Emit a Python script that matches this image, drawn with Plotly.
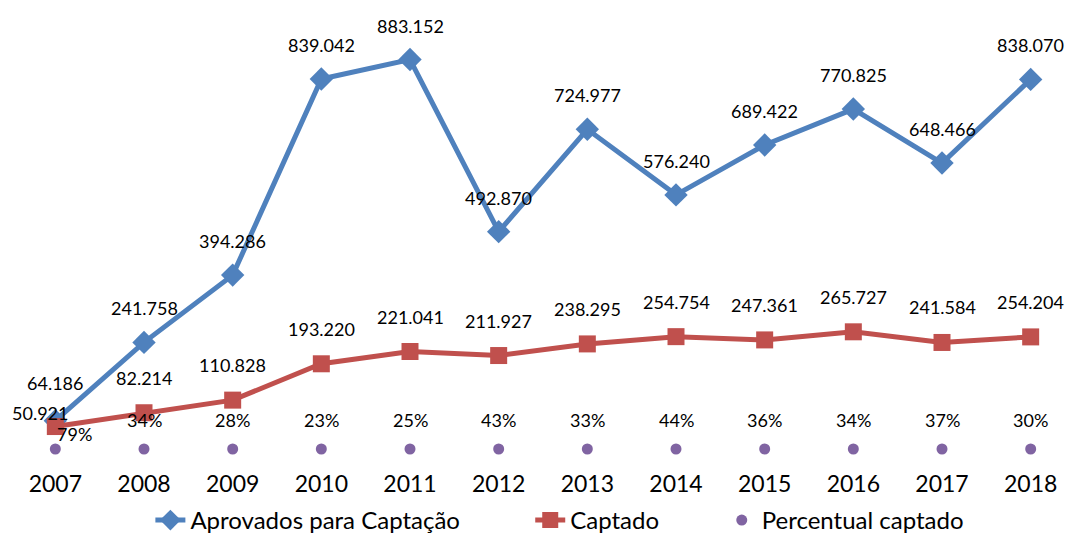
import plotly.graph_objects as go

# data
anos = ["2007", "2008", "2009", "2010", "2011", "2012", "2013", "2014", "2015", "2016", "2017", "2018"]
aprovados = [64186, 241758, 394286, 839042, 883152, 492870, 724977, 576240, 689422, 770825, 648466, 838070]
captado = [50921, 82214, 110828, 193220, 221041, 211927, 238295, 254754, 247361, 265727, 241584, 254204]
percentual = [0.79, 0.34, 0.28, 0.23, 0.25, 0.43, 0.33, 0.44, 0.36, 0.34, 0.37, 0.30]

azul = "#4F81BD"
vermelho = "#C0504D"
roxo = "#8064A2"
fonte = "Lato"


def fmt(v):
    # thousands separator with a dot, as in the original
    return f"{v:,}".replace(",", ".")


fig = go.Figure()

fig.add_trace(go.Scatter(
    x=anos, y=aprovados, name="Aprovados para Captação", mode="lines+markers",
    line=dict(color=azul, width=5),
    marker=dict(symbol="diamond", size=18, color=azul),
    cliponaxis=False, legend="legend", showlegend=True,
))
fig.add_trace(go.Scatter(
    x=anos, y=captado, name="Captado", mode="lines+markers",
    line=dict(color=vermelho, width=5),
    marker=dict(symbol="square", size=17, color=vermelho),
    cliponaxis=False, legend="legend2", showlegend=True,
))
fig.add_trace(go.Scatter(
    x=anos, y=percentual, name="Percentual captado", mode="markers",
    marker=dict(symbol="circle", size=11, color=roxo),
    cliponaxis=False, legend="legend3", showlegend=True,
))

# data labels; the first year is crowded so its labels are nudged by hand
ajuste_2007 = {"a": (0, 38), "c": (-15, 14), "p": (19, 15)}
for i, ano in enumerate(anos):
    rotulos = [
        ("a", aprovados[i], fmt(aprovados[i]), 34),
        ("c", captado[i], fmt(captado[i]), 35),
        ("p", percentual[i], f"{percentual[i] * 100:.0f}%", 29),
    ]
    for chave, y, texto, dy in rotulos:
        dx = 0
        if i == 0:
            dx, dy = ajuste_2007[chave]
        # x as category index: year strings would be read as numbers
        fig.add_annotation(
            x=i, y=y, text=texto, showarrow=False,
            xshift=dx, yshift=dy,
            font=dict(family=fonte, size=18, color="black"),
        )

fig.update_xaxes(
    type="category", range=[-0.5, 11.5],
    showgrid=False, showline=False, zeroline=False,
    ticks="outside", ticklen=14, tickcolor="rgba(0,0,0,0)",
    tickfont=dict(family=fonte, size=23, color="black"),
    automargin=False,
)
fig.update_yaxes(range=[0, 1000000], visible=False, showgrid=False, zeroline=False)

# one legend per series so each entry can sit where the original has it
leg = dict(orientation="h", y=-0.162, yanchor="middle", xanchor="left",
           font=dict(family=fonte, size=24, color="black"), bgcolor="rgba(0,0,0,0)")

# the page body adds 8px, so the margins are shifted to compensate
fig.update_layout(
    width=1075, height=536,
    paper_bgcolor="white", plot_bgcolor="white",
    margin=dict(l=3, r=8, t=0, b=95, autoexpand=False),
    font=dict(family=fonte, color="black"),
    showlegend=True,
    legend=dict(leg, x=0.131),
    legend2=dict(leg, x=0.488),
    legend3=dict(leg, x=0.668),
)

fig.write_html("out.html")
